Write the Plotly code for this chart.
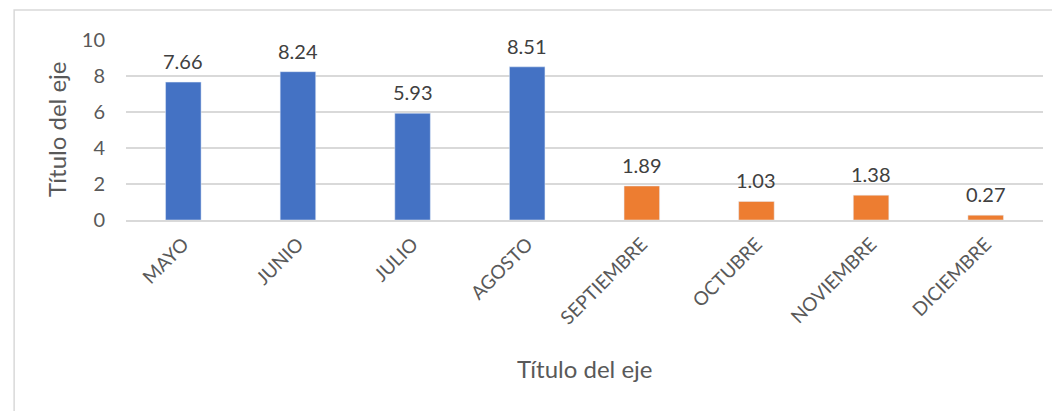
import plotly.graph_objects as go

months_a = ["MAYO", "JUNIO", "JULIO", "AGOSTO"]
values_a = [7.66, 8.24, 5.93, 8.51]
months_b = ["SEPTIEMBRE", "OCTUBRE", "NOVIEMBRE", "DICIEMBRE"]
values_b = [1.89, 1.03, 1.38, 0.27]
y_ticks = [0, 2, 4, 6, 8, 10]
axis_title = "Título del eje"

FONT = "Lato"
GREY = "#595959"

fig = go.Figure()
fig.add_trace(go.Bar(x=months_a, y=values_a, marker_color="#4472C4", width=0.31))
fig.add_trace(go.Bar(x=months_b, y=values_b, marker_color="#ED7D31", width=0.31))

annotations = []
for xs, vs in ((months_a, values_a), (months_b, values_b)):
    for m, v in zip(xs, vs):
        annotations.append(dict(
            x=m, y=v, text=f"{v:.2f}", showarrow=False, yanchor="bottom",
            yshift=7, font=dict(family=FONT, size=20, color="#404040")))

annotations += [
    dict(text=axis_title, xref="paper", yref="paper", x=0.5, y=0,
         yshift=-148, showarrow=False, yanchor="middle",
         font=dict(family=FONT, size=24, color=GREY)),
    dict(text=axis_title, xref="paper", yref="paper", x=0, y=0.5,
         xshift=-70, showarrow=False, textangle=-90, xanchor="center",
         font=dict(family=FONT, size=24, color=GREY)),
]

fig.update_layout(
    width=1060, height=411,
    margin=dict(l=118, r=25, t=32, b=199),
    paper_bgcolor="white", plot_bgcolor="white",
    showlegend=False, barmode="overlay",
    font=dict(family=FONT, color=GREY),
    xaxis=dict(
        categoryorder="array", categoryarray=months_a + months_b,
        tickangle=-45, tickfont=dict(family=FONT, size=19, color=GREY),
        showgrid=False, showline=True, linecolor="#d9d9d9", linewidth=1.5,
        ticks="", ticklen=0, ticklabelstandoff=4,
    ),
    yaxis=dict(
        range=[0, 10], tickvals=y_ticks, showgrid=True, gridcolor="#d9d9d9",
        gridwidth=1.5, zeroline=False, showline=False,
        tickfont=dict(family=FONT, size=20, color=GREY), ticklen=0,
        ticklabelstandoff=20,
    ),
    annotations=annotations,
    shapes=[
        dict(type="rect", xref="paper", yref="paper",
             x0=-0.122, x1=1.05, y0=-1.3, y1=1.167,
             line=dict(color="#d9d9d9", width=1.5), layer="below"),
    ],
)

fig.write_html("out.html")
